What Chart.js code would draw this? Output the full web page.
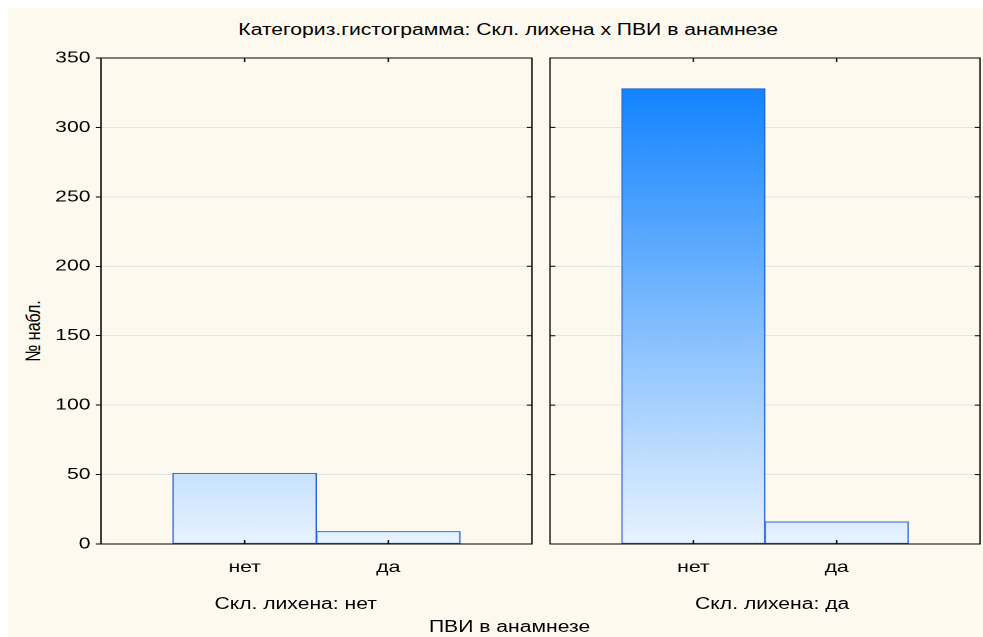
<!DOCTYPE html>
<html>
<head>
<meta charset="utf-8">
<script src="https://cdn.jsdelivr.net/npm/chart.js@4"></script>
<style>
  html, body { margin: 0; padding: 0; background: #fff; overflow: hidden; }
  #page {
    position: absolute; left: 0; top: 0; width: 745px; height: 637px;
    transform: scaleX(1.32); transform-origin: 0 0;
    font-family: "Liberation Sans", Arial, sans-serif; color: #000;
  }
  #bg { position: absolute; left: 6px; top: 8px; right: 0; bottom: 0; background: #fdf9ee; }
  .lbl { position: absolute; font-size: 16px; white-space: nowrap; transform: translate(-50%, -50%); }
  .panel { position: absolute; top: 40px; height: 560px; }
</style>
</head>
<body>
<div id="page">
  <div id="bg"></div>
  <div class="lbl" style="left:385px;top:30px">Категориз.гистограмма: Скл. лихена x ПВИ в анамнезе</div>
  <div class="lbl" style="left:25px;top:331px;transform:translate(-50%,-50%) rotate(-90deg)">№ набл.</div>
  <div class="panel" style="left:0;width:410px"><canvas id="left"></canvas></div>
  <div class="panel" style="left:410px;width:335px"><canvas id="right"></canvas></div>
  <div class="lbl" id="g0" style="left:224px;top:604px"></div>
  <div class="lbl" id="g1" style="left:585px;top:604px"></div>
  <div class="lbl" style="left:386px;top:627px">ПВИ в анамнезе</div>
</div>
<script>
const groups = ["Скл. лихена: нет", "Скл. лихена: да"];
const categories = ["нет", "да"];
const countsNo = [51, 9];
const countsYes = [328, 16];
const yMax = 350;
const yStep = 50;

document.getElementById("g0").textContent = groups[0];
document.getElementById("g1").textContent = groups[1];

// frame around the plot area plus the small inward tick marks
const frame = {
  id: "frame",
  afterDraw(chart, args, opts) {
    const { ctx, chartArea: a, scales } = chart;
    ctx.save();
    ctx.strokeStyle = "#000";
    ctx.lineWidth = 1;
    ctx.strokeRect(a.left, a.top, a.right - a.left, a.bottom - a.top);
    ctx.beginPath();
    scales.x.ticks.forEach((t) => {
      const px = scales.x.getPixelForValue(t.value);
      ctx.moveTo(px, a.bottom); ctx.lineTo(px, a.bottom - 4);
      ctx.moveTo(px, a.top); ctx.lineTo(px, a.top + 4);
    });
    scales.y.ticks.forEach((t) => {
      const py = scales.y.getPixelForValue(t.value);
      ctx.moveTo(a.right, py); ctx.lineTo(a.right - 4, py);
      if (opts.innerLeft) { ctx.moveTo(a.left, py); ctx.lineTo(a.left + 4, py); }
    });
    ctx.stroke();
    ctx.restore();
  },
};

function barFill(context) {
  const chart = context.chart;
  if (!chart.chartArea) return "#9ccbfd";
  const y = chart.scales.y;
  const g = chart.ctx.createLinearGradient(0, y.getPixelForValue(0), 0, y.getPixelForValue(330));
  g.addColorStop(0, "#e8f3fe");
  g.addColorStop(1, "#1283ff");
  return g;
}

function makePanel(id, values, first) {
  return new Chart(document.getElementById(id), {
    type: "bar",
    data: {
      datasets: [{
        data: values.map((v, i) => ({ x: i + 1, y: v })),
        backgroundColor: barFill,
        borderColor: "#2a62d6",
        borderWidth: 1,
        borderSkipped: false,
        barPercentage: 1,
        categoryPercentage: 1,
      }],
    },
    options: {
      responsive: true,
      maintainAspectRatio: false,
      animation: false,
      devicePixelRatio: 2,
      layout: { padding: { top: 18, right: first ? 7 : 2.6, left: 0, bottom: 0 } },
      plugins: { legend: { display: false }, tooltip: { enabled: false }, frame: { innerLeft: !first } },
      scales: {
        x: {
          type: "linear",
          min: 0,
          max: categories.length + 1,
          offset: false,
          afterBuildTicks: (s) => { s.ticks = s.ticks.filter((t) => t.value >= 1 && t.value <= categories.length); },
          afterFit: (s) => { s.height = 56; },
          grid: { display: false, drawTicks: false },
          border: { display: false },
          ticks: {
            stepSize: 1,
            padding: 14,
            color: "#000",
            font: { family: "Liberation Sans", size: 16 },
            callback: (v) => categories[v - 1] || "",
          },
        },
        y: {
          min: 0,
          max: yMax,
          afterFit: (s) => { s.width = first ? 76.5 : 6.7; },
          grid: { color: "#e4e4e4", tickColor: "#000", tickLength: 4, drawTicks: first },
          border: { display: false },
          ticks: {
            display: first,
            stepSize: yStep,
            padding: 4,
            color: "#000",
            font: { family: "Liberation Sans", size: 16 },
          },
        },
      },
    },
    plugins: [frame],
  });
}

makePanel("left", countsNo, true);
makePanel("right", countsYes, false);
</script>
</body>
</html>
